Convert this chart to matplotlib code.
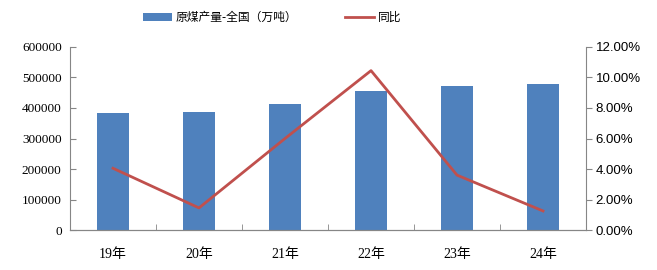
import numpy as np
import matplotlib.pyplot as plt
from matplotlib.ticker import FuncFormatter

# data
years = ['19年', '20年', '21年', '22年', '23年', '24年']
output = [385000, 388000, 414000, 456000, 472000, 478000]   # 原煤产量-全国（万吨）
yoy = [4.05, 1.45, 6.0, 10.45, 3.6, 1.25]                   # 同比, %

bar_color = '#4F81BD'
line_color = '#C0504D'
axis_color = '#868686'

fig = plt.figure(figsize=(6.57, 2.7), dpi=100)
ax = fig.add_axes([0.1065, 0.148, 0.7855, 0.678])
ax2 = ax.twinx()

x = np.arange(len(years))
bars = ax.bar(x, output, width=0.38, color=bar_color, zorder=2)
line, = ax2.plot(x, yoy, color=line_color, lw=2, zorder=3)

ax.set_xlim(-0.5, len(years) - 0.5)
ax.set_ylim(0, 600000)
ax.set_yticks(np.arange(0, 600001, 100000))
ax2.set_ylim(0, 12)
ax2.set_yticks(np.arange(0, 12.01, 2))
ax2.yaxis.set_major_formatter(FuncFormatter(lambda v, p: '%.2f%%' % v))

ax.set_xticks(x)
ax.set_xticklabels(years, family=['Liberation Serif', 'Noto Sans CJK SC'], fontsize=10)
ax.set_xticks(np.arange(0.5, len(years) - 1, 1), minor=True)
ax.tick_params(axis='x', which='major', length=0, pad=13)
ax.tick_params(axis='x', which='minor', direction='in', length=4, color=axis_color)
ax.tick_params(axis='y', direction='in', length=4, color=axis_color, labelsize=9.5, pad=6)
for lab in ax.get_yticklabels():
    lab.set_family('Liberation Serif')
ax2.tick_params(axis='y', direction='out', length=4, color=axis_color, labelsize=9.5, pad=3)
for lab in ax2.get_yticklabels():
    lab.set_family('Liberation Sans')

for a in (ax, ax2):
    a.spines['top'].set_visible(False)
    for s in ('left', 'right', 'bottom'):
        a.spines[s].set_color(axis_color)
ax2.spines['left'].set_visible(False)
ax.spines['right'].set_visible(False)

fig.legend([bars, line], ['原煤产量-全国（万吨）', '同比'], loc='center',
           bbox_to_anchor=(0.414, 0.935), ncol=2, frameon=False,
           prop={'family': ['Noto Sans CJK SC', 'DejaVu Sans'], 'size': 8.5},
           handlelength=2.5, columnspacing=4, handletextpad=0.3)

fig.savefig('out.png', dpi=100)
